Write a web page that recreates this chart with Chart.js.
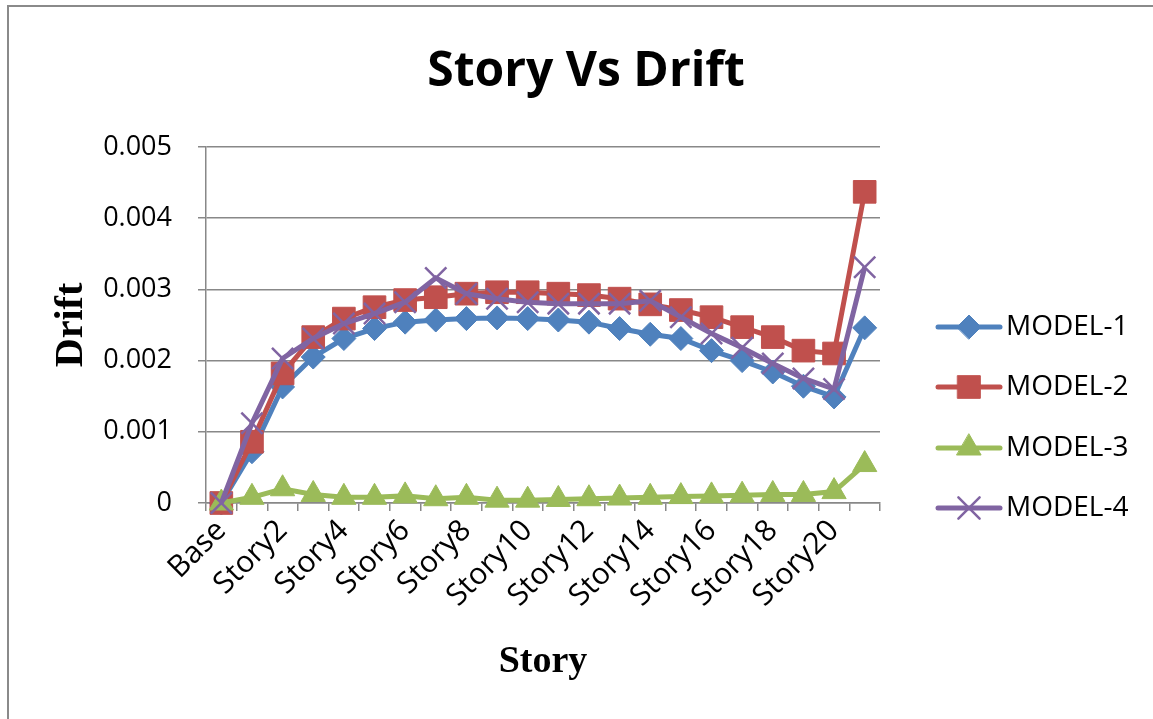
<!DOCTYPE html>
<html>
<head>
<meta charset="utf-8">
<script src="https://cdn.jsdelivr.net/npm/chart.js@4/dist/chart.umd.min.js"></script>
<style>
  html, body { margin: 0; padding: 0; background: #fff; }
  #wrap { position: relative; width: 1153px; height: 719px; overflow: hidden; }
  #frame { position: absolute; left: 7px; top: 5px; width: 1200px; height: 800px; border: 2px solid #8a8a8a; box-sizing: border-box; pointer-events: none; }
</style>
</head>
<body>
<div id="wrap">
  <canvas id="chart"></canvas>
  <div id="frame"></div>
</div>
<script>
// chart values
const categories = ['Base', 'Story1', 'Story2', 'Story3', 'Story4', 'Story5', 'Story6', 'Story7',
  'Story8', 'Story9', 'Story10', 'Story11', 'Story12', 'Story13', 'Story14', 'Story15',
  'Story16', 'Story17', 'Story18', 'Story19', 'Story20', 'Story21'];

const model1 = [0, 0.00072, 0.00163, 0.00205, 0.00231, 0.00245, 0.00254, 0.00257, 0.00259, 0.0026,
  0.00259, 0.00257, 0.00254, 0.00245, 0.00237, 0.00231, 0.00214, 0.002, 0.00184, 0.00164, 0.00149, 0.00246];
const model2 = [0, 0.00086, 0.00182, 0.00233, 0.00259, 0.00275, 0.00285, 0.00289, 0.00294, 0.00296,
  0.00296, 0.00294, 0.00292, 0.00287, 0.00279, 0.00271, 0.00261, 0.00247, 0.00233, 0.00214, 0.0021, 0.00437];
const model3 = [0, 0.00008, 0.0002, 0.00012, 0.00008, 0.00008, 0.0001, 0.00006, 0.00008, 0.00004,
  0.00004, 0.00005, 0.00006, 0.00007, 0.00008, 0.00009, 0.0001, 0.00011, 0.00012, 0.00012, 0.00016, 0.00054];
const model4 = [0, 0.00112, 0.00203, 0.00231, 0.00252, 0.00266, 0.00282, 0.00316, 0.00294, 0.00287,
  0.00282, 0.0028, 0.0028, 0.0028, 0.00284, 0.00261, 0.00238, 0.00218, 0.00196, 0.00175, 0.0016, 0.00331];

const seriesNames = ['MODEL-1', 'MODEL-2', 'MODEL-3', 'MODEL-4'];
const yTicks = [0, 0.001, 0.002, 0.003, 0.004, 0.005];

const colors = ['#4F81BD', '#C0504D', '#9BBB59', '#8064A2'];
const styles = ['rectRot', 'rect', 'triangle', 'crossRot'];
const radii = [12, 16, 14, 15];

const sans = '"Open Sans", "Liberation Sans", sans-serif';

function makeSet(i, values) {
  return {
    label: seriesNames[i],
    data: values,
    borderColor: colors[i],
    backgroundColor: colors[i],
    borderWidth: 5,
    pointStyle: styles[i],
    pointRadius: radii[i],
    pointBorderWidth: i === 3 ? 2.5 : 1,
    pointBackgroundColor: colors[i],
    pointBorderColor: colors[i],
    tension: 0,
    clip: false,
    order: 4 - i
  };
}

// title + legend drawn on the canvas
const extras = {
  id: 'extras',
  afterDraw(chart) {
    const ctx = chart.ctx;
    ctx.save();
    ctx.fillStyle = '#000';
    ctx.font = 'bold 48px ' + sans;
    ctx.textAlign = 'center';
    ctx.textBaseline = 'middle';
    ctx.fillText('Story Vs Drift', 586, 72);

    const rows = [327, 387, 448, 508];
    chart.data.datasets.forEach((ds, i) => {
      const y = rows[i];
      ctx.strokeStyle = ds.borderColor;
      ctx.lineWidth = 5;
      ctx.lineCap = 'round';
      ctx.beginPath();
      ctx.moveTo(938, y);
      ctx.lineTo(1000, y);
      ctx.stroke();
      ctx.fillStyle = ds.pointBackgroundColor;
      ctx.strokeStyle = ds.pointBorderColor;
      ctx.lineWidth = ds.pointBorderWidth;
      Chart.helpers.drawPoint(ctx, {
        pointStyle: ds.pointStyle,
        radius: ds.pointRadius,
        borderWidth: ds.pointBorderWidth,
        rotation: 0
      }, 969, y);
      ctx.fillStyle = '#000';
      ctx.font = '28px ' + sans;
      ctx.textAlign = 'left';
      ctx.textBaseline = 'middle';
      ctx.fillText(ds.label, 1006, y);
    });
    ctx.restore();
  }
};

new Chart(document.getElementById('chart'), {
  type: 'line',
  data: {
    labels: categories,
    datasets: [makeSet(0, model1), makeSet(1, model2), makeSet(2, model3), makeSet(3, model4)]
  },
  options: {
    responsive: true,
    maintainAspectRatio: false,
    animation: false,
    layout: { padding: { left: 48, top: 147, right: 273, bottom: 34 } },
    plugins: {
      legend: { display: false },
      tooltip: { enabled: false }
    },
    scales: {
      x: {
        type: 'category',
        offset: true,
        grid: {
          offset: true,
          drawOnChartArea: false,
          drawTicks: true,
          tickLength: 8,
          color: '#888',
          lineWidth: 1.5
        },
        border: { color: '#888', width: 1.5 },
        ticks: {
          autoSkip: false,
          minRotation: 45,
          maxRotation: 45,
          padding: 2,
          color: '#000',
          font: { family: sans, size: 30 },
          callback: function (val, idx) {
            return idx % 2 === 0 ? this.getLabelForValue(val) : '';
          }
        },
        title: {
          display: true,
          text: 'Story',
          color: '#000',
          font: { family: '"Liberation Serif", "Times New Roman", serif', size: 38, weight: 'bold' },
          padding: 0
        },
        afterFit: s => { s.height = 719 - 34 - 503; }
      },
      y: {
        min: 0,
        max: 0.005,
        afterBuildTicks: s => { s.ticks = yTicks.map(v => ({ value: v })); },
        grid: {
          color: '#888',
          lineWidth: 1.5,
          drawTicks: true,
          tickLength: 8
        },
        border: { color: '#888', width: 1.5 },
        ticks: {
          padding: 26,
          color: '#000',
          font: { family: sans, size: 27 },
          callback: v => (v === 0 ? '0' : v.toFixed(3))
        },
        title: {
          display: true,
          text: 'Drift',
          color: '#000',
          font: { family: '"Liberation Serif", "Times New Roman", serif', size: 40, weight: 'bold' },
          padding: 0
        },
        afterFit: s => { s.width = 206 - 48; }
      }
    }
  },
  plugins: [extras]
});
</script>
</body>
</html>
